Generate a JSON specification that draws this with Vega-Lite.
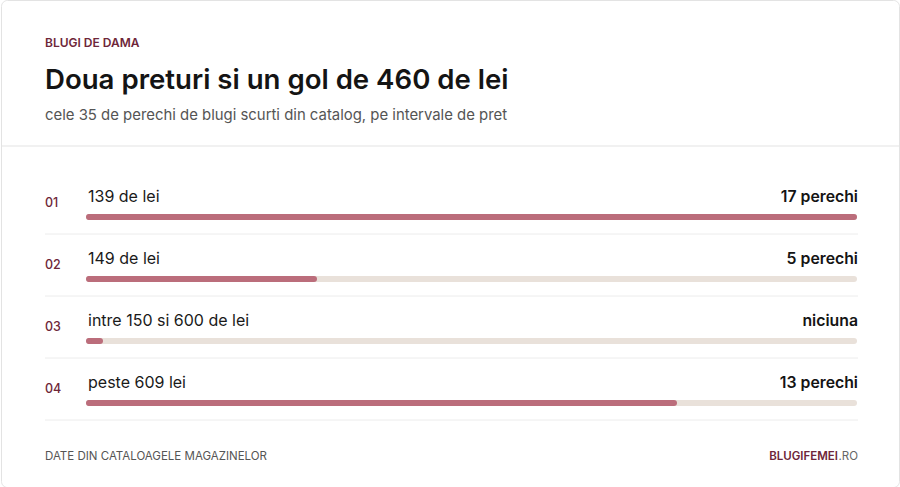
{
  "$schema": "https://vega.github.io/schema/vega-lite/v6.json",
  "width": 900,
  "height": 487,
  "autosize": {"type": "fit", "contains": "padding"},
  "padding": 0,
  "background": "#ffffff",
  "config": {
    "view": {"stroke": "#e3e3e3", "strokeWidth": 1, "cornerRadius": 6},
    "font": "Inter",
    "text": {"font": "Inter"}
  },
  "resolve": {"scale": {"y": "independent"}},
  "layer": [
    {
      "data": {"values": [
        {"line": "eyebrow", "text": "BLUGI DE DAMA"},
        {"line": "title", "text": "Doua preturi si un gol de 460 de lei"},
        {"line": "subtitle", "text": "cele 35 de perechi de blugi scurti din catalog, pe intervale de pret"}
      ]},
      "encoding": {
        "y": {"field": "line", "type": "nominal", "scale": {"type": "point", "domain": ["eyebrow", "title", "subtitle"], "range": [47, 120], "padding": 0}, "axis": null}
      },
      "layer": [
        {
          "transform": [{"filter": "datum.line === 'eyebrow'"}],
          "mark": {"type": "text", "align": "left", "baseline": "alphabetic", "dx": -44, "fontSize": 12, "fontWeight": 600, "color": "#6e2639"},
          "encoding": {
            "x": {"datum": 0, "type": "quantitative", "scale": {"domain": [0, 17], "range": [88, 853], "zero": false, "nice": false}, "axis": null},
            "text": {"field": "text"}
          }
        },
        {
          "transform": [{"filter": "datum.line === 'title'"}],
          "mark": {"type": "text", "align": "left", "baseline": "alphabetic", "dx": -44, "dy": 5.5, "fontSize": 27.6, "fontWeight": 600, "color": "#141414"},
          "encoding": {
            "x": {"datum": 0, "type": "quantitative", "scale": {"domain": [0, 17], "range": [88, 853], "zero": false, "nice": false}, "axis": null},
            "text": {"field": "text"}
          }
        },
        {
          "transform": [{"filter": "datum.line === 'subtitle'"}],
          "mark": {"type": "text", "align": "left", "baseline": "alphabetic", "dx": -44, "fontSize": 14.9, "fontWeight": 400, "color": "#555555"},
          "encoding": {
            "x": {"datum": 0, "type": "quantitative", "scale": {"domain": [0, 17], "range": [88, 853], "zero": false, "nice": false}, "axis": null},
            "text": {"field": "text"}
          }
        },
        {
          "transform": [{"filter": "datum.line === 'subtitle'"}],
          "mark": {"type": "rule", "yOffset": 26, "color": "#e3e3e3", "strokeWidth": 1},
          "encoding": {}
        }
      ]
    },
    {
      "data": {"values": [
        {"rank": "01", "label": "139 de lei", "count": 17, "shown": "17 perechi"},
        {"rank": "02", "label": "149 de lei", "count": 5, "shown": "5 perechi"},
        {"rank": "03", "label": "intre 150 si 600 de lei", "count": 0, "shown": "niciuna"},
        {"rank": "04", "label": "peste 609 lei", "count": 13, "shown": "13 perechi"}
      ]},
      "encoding": {
        "y": {"field": "rank", "type": "ordinal", "scale": {"type": "point", "range": [202, 388], "padding": 0}, "axis": null}
      },
      "layer": [
        {
          "mark": {"type": "rule", "yOffset": 32, "xOffset": -44, "x2Offset": 4, "color": "#ececec", "strokeWidth": 1},
          "encoding": {
            "x": {"datum": 0, "type": "quantitative", "scale": {"domain": [0, 17], "range": [88, 853], "zero": false, "nice": false}, "axis": null},
            "x2": {"datum": 17}
          }
        },
        {
          "mark": {"type": "rule", "yOffset": 15, "color": "#e9e1da", "strokeWidth": 6, "strokeCap": "round"},
          "encoding": {
            "x": {"datum": 0, "type": "quantitative", "scale": {"domain": [0, 17], "range": [88, 853], "zero": false, "nice": false}, "axis": null},
            "x2": {"datum": 17}
          }
        },
        {
          "mark": {"type": "rule", "yOffset": 15, "xOffset": 1, "x2Offset": 11, "color": "#bb6d7b", "strokeWidth": 6, "strokeCap": "round"},
          "encoding": {
            "x": {"datum": 0, "type": "quantitative", "scale": {"domain": [0, 17], "range": [88, 853], "zero": false, "nice": false}, "axis": null},
            "x2": {"datum": 0}
          }
        },
        {
          "mark": {"type": "rule", "yOffset": 15, "color": "#bb6d7b", "strokeWidth": 6, "strokeCap": "round"},
          "encoding": {
            "x": {"field": "count", "type": "quantitative", "scale": {"domain": [0, 17], "range": [88, 853], "zero": false, "nice": false}, "axis": null},
            "x2": {"datum": 0}
          }
        },
        {
          "mark": {"type": "text", "align": "left", "baseline": "alphabetic", "dx": -44, "dy": 5, "fontSize": 12.5, "fontWeight": 500, "color": "#6e2639"},
          "encoding": {
            "x": {"datum": 0, "type": "quantitative", "scale": {"domain": [0, 17], "range": [88, 853], "zero": false, "nice": false}, "axis": null},
            "text": {"field": "rank"}
          }
        },
        {
          "mark": {"type": "text", "align": "left", "baseline": "alphabetic", "dx": -1, "fontSize": 16, "fontWeight": 400, "color": "#1a1a1a"},
          "encoding": {
            "x": {"datum": 0, "type": "quantitative", "scale": {"domain": [0, 17], "range": [88, 853], "zero": false, "nice": false}, "axis": null},
            "text": {"field": "label"}
          }
        },
        {
          "mark": {"type": "text", "align": "right", "baseline": "alphabetic", "dx": 4, "fontSize": 15.8, "fontWeight": 600, "color": "#141414"},
          "encoding": {
            "x": {"datum": 17, "type": "quantitative", "scale": {"domain": [0, 17], "range": [88, 853], "zero": false, "nice": false}, "axis": null},
            "text": {"field": "shown"}
          }
        }
      ]
    },
    {
      "data": {"values": [
        {"part": "source", "text": "DATE DIN CATALOAGELE MAGAZINELOR"},
        {"part": "brand", "text": "BLUGIFEMEI"},
        {"part": "domain", "text": ".RO"}
      ]},
      "encoding": {
        "y": {"field": "part", "type": "nominal", "scale": {"type": "point", "domain": ["source", "brand", "domain"], "range": [460, 460], "padding": 0}, "axis": null}
      },
      "layer": [
        {
          "transform": [{"filter": "datum.part === 'source'"}],
          "mark": {"type": "text", "align": "left", "baseline": "alphabetic", "dx": -44, "fontSize": 11.5, "fontWeight": 400, "color": "#555555"},
          "encoding": {
            "x": {"datum": 0, "type": "quantitative", "scale": {"domain": [0, 17], "range": [88, 853], "zero": false, "nice": false}, "axis": null},
            "text": {"field": "text"}
          }
        },
        {
          "transform": [{"filter": "datum.part === 'brand'"}],
          "mark": {"type": "text", "align": "right", "baseline": "alphabetic", "dx": -16, "fontSize": 11.5, "fontWeight": 600, "color": "#6e2639"},
          "encoding": {
            "x": {"datum": 17, "type": "quantitative", "scale": {"domain": [0, 17], "range": [88, 853], "zero": false, "nice": false}, "axis": null},
            "text": {"field": "text"}
          }
        },
        {
          "transform": [{"filter": "datum.part === 'domain'"}],
          "mark": {"type": "text", "align": "right", "baseline": "alphabetic", "dx": 4, "fontSize": 11.5, "fontWeight": 400, "color": "#666666"},
          "encoding": {
            "x": {"datum": 17, "type": "quantitative", "scale": {"domain": [0, 17], "range": [88, 853], "zero": false, "nice": false}, "axis": null},
            "text": {"field": "text"}
          }
        }
      ]
    }
  ]
}
